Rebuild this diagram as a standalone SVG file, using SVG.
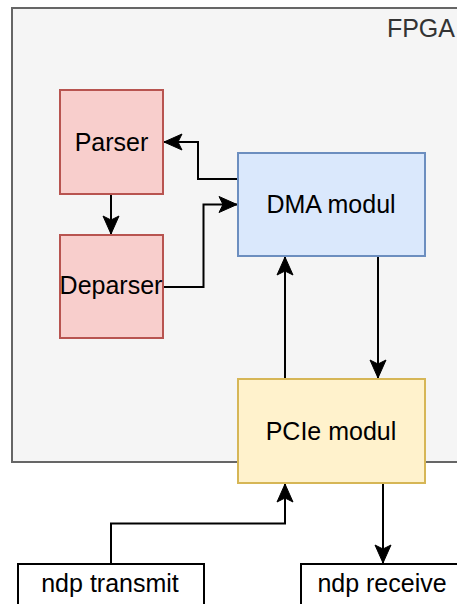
<svg xmlns="http://www.w3.org/2000/svg" width="457" height="604" viewBox="0 0 457 604">
  <style>
    text { font-family: "Liberation Sans", Arial, sans-serif; font-size: 25px; fill: #000; text-anchor: middle; }
    .conn { fill: none; stroke: #000; stroke-width: 2; marker-end: url(#arrow); }
    .red { fill: #f8cecc; stroke: #b85450; stroke-width: 2; }
    .blue { fill: #dae8fc; stroke: #6c8ebf; stroke-width: 2; }
    .yellow { fill: #fff2cc; stroke: #d6b656; stroke-width: 2; }
    .plain { fill: #ffffff; stroke: #000; stroke-width: 2; }
  </style>
  <defs>
    <marker id="arrow" markerUnits="userSpaceOnUse" markerWidth="22" markerHeight="22" viewBox="-20 -10 22 20" refX="0" refY="0" orient="auto">
      <path d="M0,0 L-18,-8 L-14,0 L-18,8 Z" fill="#000" stroke="#000" stroke-width="1"/>
    </marker>
  </defs>
  <rect width="457" height="604" fill="#ffffff"/>
  <g id="fpga">
    <rect x="12" y="8" width="460" height="454" fill="#f5f5f5" stroke="#666666" stroke-width="2"/>
    <text x="455" y="37" style="text-anchor:end; fill:#333333">FPGA</text>
  </g>
  <g id="connectors">
    <path class="conn" d="M238,179 H198 V142 H164"/>
    <path class="conn" d="M111,194 V234"/>
    <path class="conn" d="M163,287 H203.5 V204.5 H237"/>
    <path class="conn" d="M285,379 V257"/>
    <path class="conn" d="M378,256 V378"/>
    <path class="conn" d="M111,564 V523.5 H285 V484"/>
    <path class="conn" d="M383,483 V563"/>
  </g>
  <g id="parser">
    <rect class="red" x="60" y="90" width="103" height="104"/>
    <text x="111.5" y="151">Parser</text>
  </g>
  <g id="deparser">
    <rect class="red" x="60" y="235" width="103" height="103"/>
    <text x="111" y="294">Deparser</text>
  </g>
  <g id="dma">
    <rect class="blue" x="238" y="153" width="187" height="103"/>
    <text x="331" y="213">DMA modul</text>
  </g>
  <g id="pcie">
    <rect class="yellow" x="238" y="379" width="187" height="104"/>
    <text x="331" y="439.5">PCIe modul</text>
  </g>
  <g id="ndp-transmit">
    <rect class="plain" x="18" y="564" width="186" height="50"/>
    <text x="110" y="592">ndp transmit</text>
  </g>
  <g id="ndp-receive">
    <rect class="plain" x="301" y="564" width="164" height="50"/>
    <text x="382" y="592">ndp receive</text>
  </g>
</svg>
